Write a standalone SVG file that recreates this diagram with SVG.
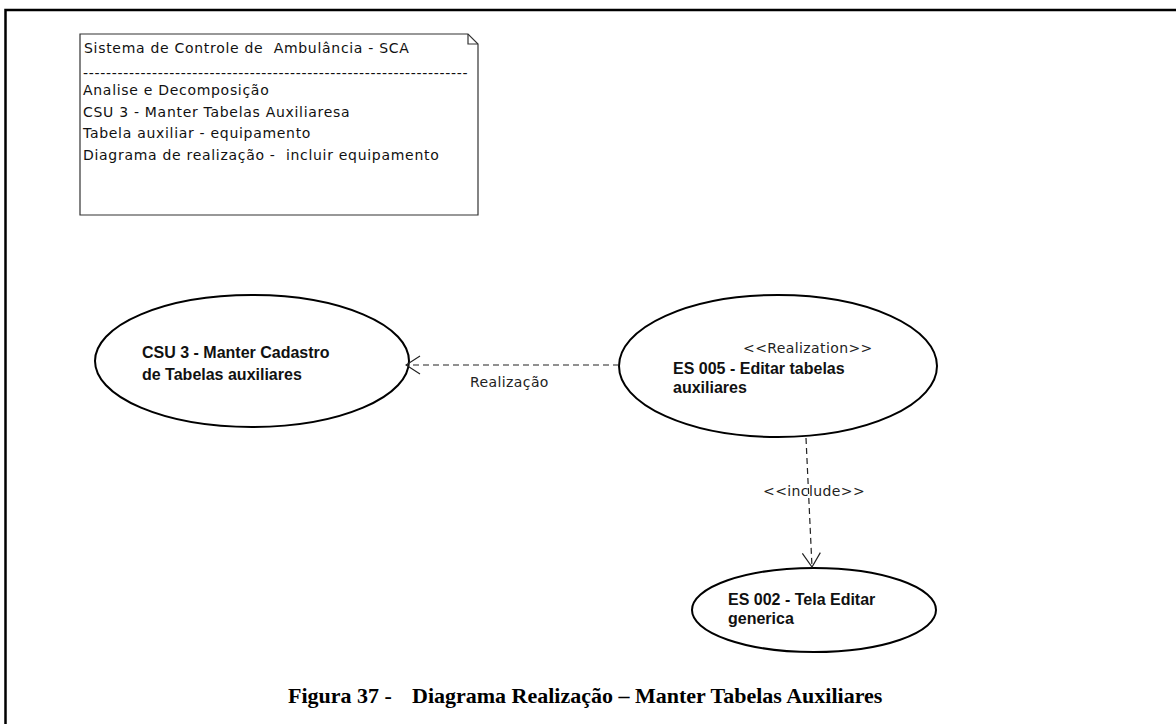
<svg xmlns="http://www.w3.org/2000/svg" width="1176" height="724" viewBox="0 0 1176 724">
  <style>
    .frame { stroke: #000; stroke-width: 2.5; fill: none; }
    .note { fill: #fff; stroke: #333; stroke-width: 1.2; }
    .note-text { font-family: "DejaVu Sans", Verdana, sans-serif; font-size: 14px; letter-spacing: 0.7px; fill: #111; }
    .uc { fill: #fff; stroke: #000; stroke-width: 2; }
    .uc-text { font-family: "Liberation Sans", Arial, sans-serif; font-size: 16px; font-weight: bold; fill: #111; }
    .stereo { font-family: "DejaVu Sans", Verdana, sans-serif; font-size: 14px; letter-spacing: 0.4px; fill: #222; }
    .dep { stroke: #222; stroke-width: 1.2; stroke-dasharray: 6 4; fill: none; }
    .caption { font-family: "Liberation Serif", "Times New Roman", serif; font-size: 22px; font-weight: bold; fill: #000; }
  </style>
  <defs>
    <marker id="open-arrow" viewBox="0 0 16 20" refX="15" refY="10" markerWidth="16" markerHeight="20" markerUnits="userSpaceOnUse" orient="auto">
      <path d="M1,1 L15,10 L1,19" fill="none" stroke="#222" stroke-width="1.2"/>
    </marker>
  </defs>

  <rect width="1176" height="724" fill="#fff"/>

  <!-- page frame: top and left rules -->
  <path class="frame" d="M5.5,724 L5.5,10 L1176,10"/>

  <!-- note -->
  <g id="note">
    <path class="note" d="M80,34 L468,34 L478,44 L478,215 L80,215 Z"/>
    <path d="M468,34 L468,44 L478,44" fill="none" stroke="#333" stroke-width="1.2"/>
    <text class="note-text" x="84" y="53" xml:space="preserve">Sistema de Controle de  Ambulância - SCA</text>
    <text class="note-text" x="83" y="78">-------------------------------------------------------------------</text>
    <text class="note-text" x="83" y="95">Analise e Decomposição</text>
    <text class="note-text" x="83" y="117">CSU 3 - Manter Tabelas Auxiliaresa</text>
    <text class="note-text" x="83" y="138">Tabela auxiliar - equipamento</text>
    <text class="note-text" x="83" y="160" xml:space="preserve">Diagrama de realização -  incluir equipamento</text>
  </g>

  <!-- use cases -->
  <g id="csu3">
    <ellipse class="uc" cx="252" cy="361" rx="157" ry="66"/>
    <text class="uc-text" x="142" y="358">CSU 3 - Manter Cadastro</text>
    <text class="uc-text" x="142" y="380">de Tabelas auxiliares</text>
  </g>

  <g id="es005">
    <ellipse class="uc" cx="778" cy="366" rx="159" ry="71"/>
    <text class="stereo" x="743" y="353">&lt;&lt;Realization&gt;&gt;</text>
    <text class="uc-text" x="673" y="374">ES 005 - Editar tabelas</text>
    <text class="uc-text" x="673" y="393">auxiliares</text>
  </g>

  <g id="es002">
    <ellipse class="uc" cx="814" cy="610" rx="122" ry="42"/>
    <text class="uc-text" x="728" y="605">ES 002 - Tela Editar</text>
    <text class="uc-text" x="728" y="624">generica</text>
  </g>

  <!-- connectors -->
  <g id="connectors">
    <line class="dep" x1="619" y1="365" x2="406" y2="365" marker-end="url(#open-arrow)"/>
    <text class="stereo" x="470" y="387">Realização</text>
    <line class="dep" x1="806" y1="438" x2="812" y2="567" marker-end="url(#open-arrow)"/>
    <text class="stereo" x="763" y="496">&lt;&lt;include&gt;&gt;</text>
  </g>

  <!-- caption -->
  <text class="caption" x="288" y="703">Figura 37 -<tspan x="412">Diagrama Realização – Manter Tabelas Auxiliares</tspan></text>
</svg>
